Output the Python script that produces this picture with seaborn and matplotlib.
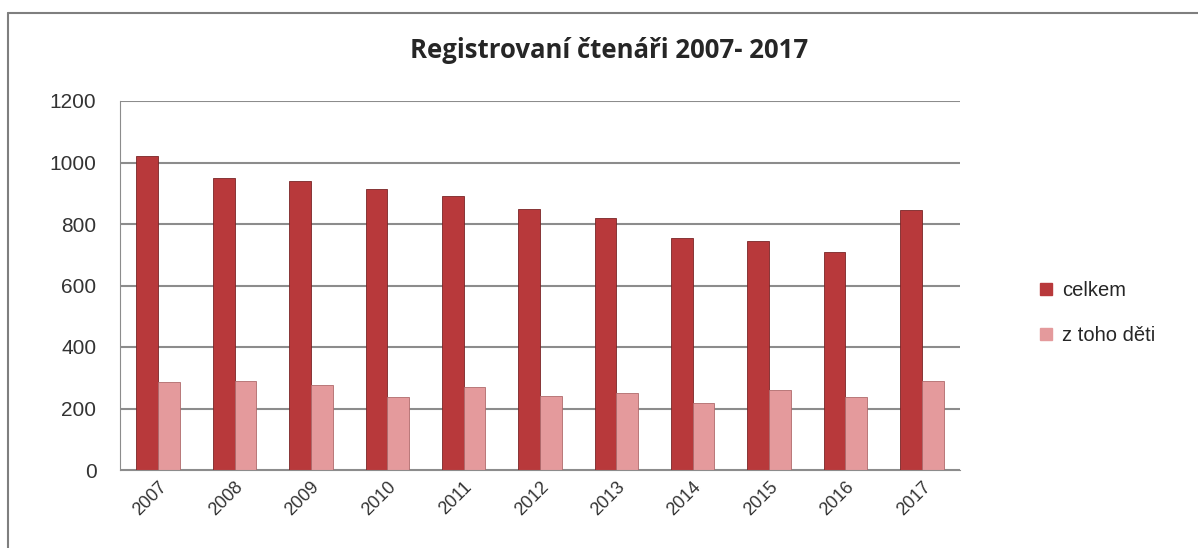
import pandas as pd
import matplotlib.pyplot as plt
import seaborn as sns
from matplotlib.lines import Line2D

# Data
roky = ['2007', '2008', '2009', '2010', '2011', '2012', '2013', '2014', '2015', '2016', '2017']
celkem = [1020, 950, 940, 915, 890, 850, 820, 753, 744, 709, 846]
deti = [286, 291, 275, 236, 269, 242, 250, 217, 259, 237, 291]
serie = ['celkem', 'z toho děti']
barvy = ['#B8393B', '#E49A9C']

df = pd.DataFrame({'rok': roky * 2,
                   'hodnota': celkem + deti,
                   'serie': [serie[0]] * len(roky) + [serie[1]] * len(roky)})

sns.set_style('white')
plt.rcParams['font.family'] = ['Liberation Sans', 'DejaVu Sans']

fig = plt.figure(figsize=(11.98, 5.48), dpi=100)
ax = fig.add_axes([120 / 1198, 1 - 470 / 548, 840 / 1198, 369 / 548])

sns.barplot(data=df, x='rok', y='hodnota', hue='serie', palette=barvy, saturation=1,
            width=0.57, edgecolor='#7a2526', linewidth=0.6, ax=ax, legend=False)
# softer edge on the pink bars
for p in ax.patches[len(roky):]:
    p.set_edgecolor('#b06a6c')

ax.set_ylim(0, 1200)
ax.set_yticks(range(0, 1201, 200))
ax.yaxis.grid(True, color='#8c8c8c', linewidth=1.5)
ax.set_axisbelow(True)
ax.set_xlabel('')
ax.set_ylabel('')
for s in ['top', 'right']:
    ax.spines[s].set_visible(False)
ax.spines['left'].set_color('#8c8c8c')
ax.spines['bottom'].set_color('#8c8c8c')
ax.tick_params(axis='y', labelsize=15, colors='#333333', length=5, color='#8c8c8c', pad=12)
ax.tick_params(axis='x', labelsize=13, colors='#333333', length=0, pad=6)
plt.setp(ax.get_xticklabels(), rotation=45, ha='right', rotation_mode='anchor')

fig.text(609 / 1198, 1 - 50 / 548, 'Registrovaní čtenáři 2007- 2017', ha='center', va='center',
         fontsize=18.5, fontweight='bold', family=['Open Sans', 'DejaVu Sans'])

handles = [Line2D([0], [0], marker='s', linestyle='', markersize=8, color=c) for c in barvy]
fig.legend(handles, serie, loc='center left', bbox_to_anchor=(1018 / 1198, 1 - 313 / 548),
           frameon=False, fontsize=14.5, handletextpad=0.3, labelspacing=1.3, handlelength=1)

# outer frame (top and left edges visible)
fig.add_artist(Line2D([8 / 1198, 1.0], [1 - 13 / 548] * 2, color='#7f7f7f', linewidth=1.5,
                      transform=fig.transFigure))
fig.add_artist(Line2D([8 / 1198] * 2, [0, 1 - 13 / 548], color='#7f7f7f', linewidth=1.5,
                      transform=fig.transFigure))

fig.savefig('out.png', dpi=100)
